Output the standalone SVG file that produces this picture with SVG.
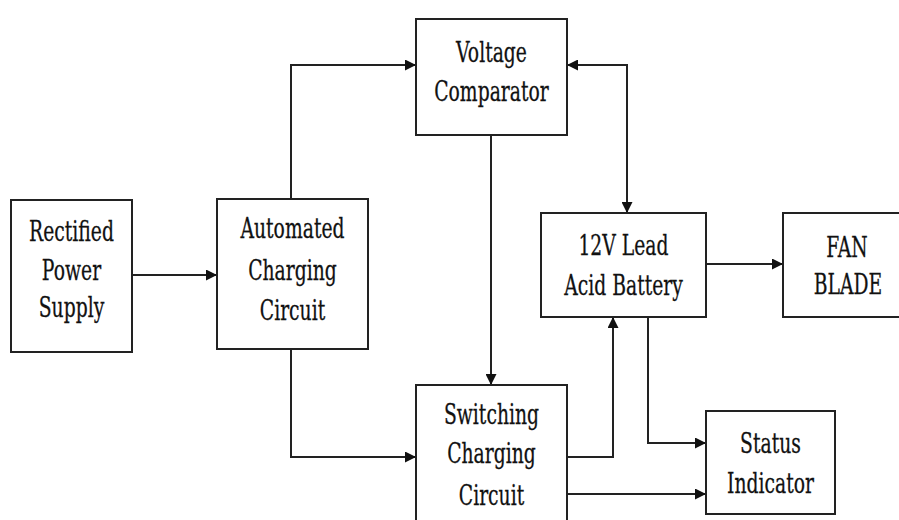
<svg xmlns="http://www.w3.org/2000/svg" width="899" height="520" viewBox="0 0 899 520">
<style>
.box{fill:#fff;stroke:#222;stroke-width:2}
.ln{fill:none;stroke:#222;stroke-width:2}
.t{font-family:"DejaVu Serif","Liberation Serif",serif;font-size:28px;fill:#111;stroke:#111;stroke-width:0.3;text-anchor:middle}
</style>
<defs>
<marker id="ah" viewBox="0 0 10 10" refX="10" refY="5" markerWidth="11" markerHeight="11" markerUnits="userSpaceOnUse" orient="auto-start-reverse">
<path d="M0,0 L10,5 L0,10 Z" fill="#111"/>
</marker>
</defs>
<rect width="899" height="520" fill="#fff"/>
<g id="connectors">
<path class="ln" d="M132,275 H217" marker-end="url(#ah)"/>
<path class="ln" d="M291,199 V65 H416" marker-end="url(#ah)"/>
<path class="ln" d="M567,65 H627 V213" marker-start="url(#ah)" marker-end="url(#ah)"/>
<path class="ln" d="M491,135 V385" marker-end="url(#ah)"/>
<path class="ln" d="M291,349 V457 H416" marker-end="url(#ah)"/>
<path class="ln" d="M567,457 H613 V317" marker-end="url(#ah)"/>
<path class="ln" d="M648,317 V443 H706" marker-end="url(#ah)"/>
<path class="ln" d="M567,494 H706" marker-end="url(#ah)"/>
<path class="ln" d="M706,264 H783" marker-end="url(#ah)"/>
</g>
<g id="rectified">
<rect class="box" x="11" y="200" width="121" height="152"/>
<text class="t" transform="translate(71.5,241) scale(0.67,1)">Rectified</text>
<text class="t" transform="translate(71.5,280) scale(0.67,1)">Power</text>
<text class="t" transform="translate(71.5,317) scale(0.67,1)">Supply</text>
</g>
<g id="automated">
<rect class="box" x="217" y="199" width="151" height="150"/>
<text class="t" transform="translate(292.5,238) scale(0.67,1)">Automated</text>
<text class="t" transform="translate(292.5,280) scale(0.67,1)">Charging</text>
<text class="t" transform="translate(292.5,320) scale(0.67,1)">Circuit</text>
</g>
<g id="voltage">
<rect class="box" x="416" y="19" width="151" height="116"/>
<text class="t" transform="translate(491.5,62) scale(0.67,1)">Voltage</text>
<text class="t" transform="translate(491.5,101) scale(0.67,1)">Comparator</text>
</g>
<g id="battery">
<rect class="box" x="541" y="213" width="165" height="104"/>
<text class="t" transform="translate(623.5,255) scale(0.67,1)">12V Lead</text>
<text class="t" transform="translate(623.5,295) scale(0.67,1)">Acid Battery</text>
</g>
<g id="fan">
<rect class="box" x="783" y="213" width="130" height="104"/>
<text class="t" transform="translate(847,257) scale(0.67,1)">FAN</text>
<text class="t" transform="translate(848,294) scale(0.67,1)">BLADE</text>
</g>
<g id="switching">
<rect class="box" x="416" y="385" width="151" height="150"/>
<text class="t" transform="translate(491.5,424) scale(0.67,1)">Switching</text>
<text class="t" transform="translate(491.5,463) scale(0.67,1)">Charging</text>
<text class="t" transform="translate(491.5,505) scale(0.67,1)">Circuit</text>
</g>
<g id="status">
<rect class="box" x="706" y="411" width="129" height="103"/>
<text class="t" transform="translate(770.5,453) scale(0.67,1)">Status</text>
<text class="t" transform="translate(770.5,493) scale(0.67,1)">Indicator</text>
</g>
</svg>
